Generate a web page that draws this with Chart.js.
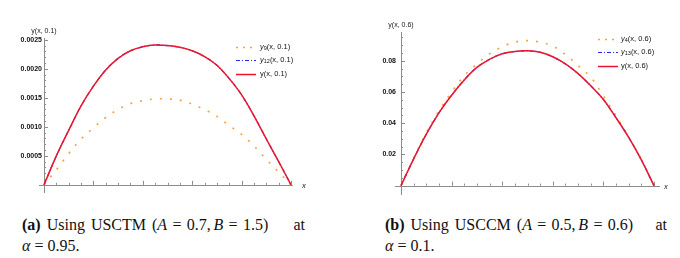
<!DOCTYPE html>
<html>
<head>
<meta charset="utf-8">
<script src="https://cdn.jsdelivr.net/npm/chart.js@4.4.0/dist/chart.umd.min.js"></script>
<style>
  html, body { margin: 0; padding: 0; background: #fff; }
  #wrap { position: relative; width: 680px; height: 258px; overflow: hidden; }
  canvas { position: absolute; top: 0; }
  #c1 { left: 0; }
  #c2 { left: 340px; }
  .legend { position: absolute; font-family: "Liberation Sans", Arial, sans-serif; font-size: 7.5px; color: #111; }
  .legend .row { position: absolute; left: 0; height: 10px; white-space: nowrap; }
  .legend svg { position: absolute; left: 0; top: 0; }
  .legend span { position: absolute; top: 0; line-height: 10px; }
  .legend sub { font-size: 5.5px; vertical-align: -1px; }
  .cap { position: absolute; font-family: "Liberation Serif", "Times New Roman", serif; font-size: 16px; color: #111; white-space: nowrap; }
  .cap .at { position: absolute; right: 0; top: 0; }
  .cap .w { word-spacing: 2px; }
</style>
</head>
<body>
<div id="wrap">
  <canvas id="c1" width="340" height="200"></canvas>
  <canvas id="c2" width="340" height="200"></canvas>
  <div class="legend" id="lg1" style="left:235px; top:42px;"></div>
  <div class="legend" id="lg2" style="left:597px; top:34px;"></div>
  <div class="cap" style="left:22px; top:216px; width:283px;"><span class="w"><b>(a)</b> Using USCTM (<i>A</i>&#x2004;=&#x2004;0.7,&#x2006;<i>B</i>&#x2004;=&#x2004;1.5)</span><span class="at">at</span></div>
  <div class="cap" style="left:22px; top:237px;"><i>α</i>&#x2005;=&#x2005;0.95.</div>
  <div class="cap" style="left:385px; top:216px; width:282px;"><span class="w"><b>(b)</b> Using USCCM (<i>A</i>&#x2004;=&#x2004;0.5,&#x2006;<i>B</i>&#x2004;=&#x2004;0.6)</span><span class="at">at</span></div>
  <div class="cap" style="left:385px; top:237px;"><i>α</i>&#x2005;=&#x2005;0.1.</div>
</div>
<script>
// ---------- data ----------
const xs = [0, 0.05, 0.1, 0.15, 0.2, 0.25, 0.3, 0.35, 0.4, 0.45, 0.5, 0.55, 0.6, 0.65, 0.7, 0.75, 0.8, 0.85, 0.9, 0.95, 1.0];

// Panel (a): USCTM, t = 0.1
const y9_a  = [0, 0.00026, 0.00054, 0.00079, 0.00098, 0.00116, 0.0013, 0.0014, 0.00145, 0.00148, 0.00148, 0.00146, 0.00139, 0.0013, 0.00118, 0.00102, 0.00087, 0.00067, 0.00044, 0.00022, 0];
const y12_a = [0, 0.0005, 0.00094, 0.00136, 0.0017, 0.00198, 0.00218, 0.00231, 0.00238, 0.00241, 0.0024, 0.00237, 0.00231, 0.00221, 0.00206, 0.00183, 0.00155, 0.00119, 0.00079, 0.0004, 0];
const yex_a = [0, 0.0005, 0.00094, 0.00136, 0.0017, 0.00198, 0.00218, 0.00231, 0.00238, 0.00241, 0.0024, 0.00237, 0.00231, 0.00221, 0.00206, 0.00183, 0.00155, 0.00119, 0.00079, 0.0004, 0];
const yTicks_a = [0.0005, 0.0010, 0.0015, 0.0020, 0.0025];

// Panel (b): USCCM, t = 0.6
const y4_b  = [0, 0.0175, 0.034, 0.048, 0.060, 0.0705, 0.078, 0.0845, 0.089, 0.092, 0.093, 0.092, 0.0895, 0.084, 0.077, 0.0695, 0.0575, 0.0447, 0.031, 0.0167, 0];
const y13_b = [0, 0.0172, 0.033, 0.0467, 0.058, 0.0678, 0.0758, 0.081, 0.0845, 0.086, 0.0864, 0.0855, 0.0826, 0.078, 0.0718, 0.064, 0.0552, 0.0435, 0.031, 0.0165, 0];
const yex_b = [0, 0.0172, 0.033, 0.0467, 0.058, 0.0678, 0.0758, 0.081, 0.0845, 0.086, 0.0864, 0.0855, 0.0826, 0.078, 0.0718, 0.064, 0.0552, 0.0435, 0.031, 0.0165, 0];
const yTicks_b = [0.02, 0.04, 0.06, 0.08];

// ---------- styles ----------
const ORANGE = 'rgb(247,163,70)';
const BLUE = 'rgb(40,40,235)';
const RED = 'rgb(236,22,42)';
const AXIS = 'rgb(140,140,140)';

function pts(arr) { return xs.map((x, i) => ({ x: x, y: arr[i] })); }

// Mathematica-style axes through the origin, drawn via the chart's scales
const mmaAxes = {
  id: 'mmaAxes',
  beforeDatasetsDraw(chart, args, opts) {
    const { ctx, chartArea: ca, scales: { x, y } } = chart;
    const x0 = x.getPixelForValue(0), y0 = y.getPixelForValue(0);
    ctx.save();
    ctx.strokeStyle = AXIS;
    ctx.lineWidth = 1;
    ctx.beginPath();
    ctx.moveTo(ca.left - opts.extLeft, Math.round(y0) + 0.5); ctx.lineTo(ca.right, Math.round(y0) + 0.5);
    ctx.moveTo(Math.round(x0) + 0.5, ca.top); ctx.lineTo(Math.round(x0) + 0.5, ca.bottom);
    for (let k = 1; k <= Math.floor(x.max / opts.xMinor + 1e-9); k++) {
      const v = k * opts.xMinor;
      const px = Math.round(x.getPixelForValue(v)) + 0.5;
      const major = Math.abs(v / opts.xMajor - Math.round(v / opts.xMajor)) < 1e-6;
      ctx.moveTo(px, y0); ctx.lineTo(px, y0 - (major ? 4 : 2));
    }
    for (let k = 1; k <= Math.floor(y.max / opts.yMinor + 1e-9); k++) {
      const v = k * opts.yMinor;
      const py = Math.round(y.getPixelForValue(v)) + 0.5;
      const major = Math.abs(v / opts.yMajor - Math.round(v / opts.yMajor)) < 1e-6;
      ctx.moveTo(x0, py); ctx.lineTo(x0 + (major ? 4 : 2), py);
    }
    ctx.stroke();
    ctx.fillStyle = '#1a1a1a';
    ctx.font = '7px "Liberation Sans", Arial, sans-serif';
    ctx.textAlign = 'center';
    ctx.textBaseline = 'bottom';
    ctx.fillText(opts.yTitle, x0, ca.top - 3);
    ctx.font = 'italic 7.5px "Liberation Sans", Arial, sans-serif';
    ctx.textAlign = 'left';
    ctx.textBaseline = 'middle';
    ctx.fillText('x', ca.right + opts.xTitleGap, y0 + 1.5);
    ctx.restore();
  }
};

function makeChart(id, d1, d2, d3, names, ylim, xlim, yTicks, decimals, yTitle, pad, yWidth, extLeft, minors, xGap) {
  return new Chart(document.getElementById(id), {
    type: 'line',
    data: {
      datasets: [
        { label: names[0], data: pts(d1), borderColor: ORANGE, borderWidth: 1.7, borderDash: [2, 8], pointRadius: 0, tension: 0.35, order: 3 },
        { label: names[1], data: pts(d2), borderColor: BLUE, borderWidth: 1.2, borderDash: [4, 2, 1, 2], pointRadius: 0, tension: 0.35, order: 2 },
        { label: names[2], data: pts(d3), borderColor: RED, borderWidth: 1.5, pointRadius: 0, tension: 0.35, order: 1 }
      ]
    },
    options: {
      responsive: false,
      animation: false,
      layout: { padding: pad },
      plugins: {
        legend: { display: false },
        tooltip: { enabled: false },
        mmaAxes: { xMinor: minors[0], xMajor: minors[1], yMinor: minors[2], yMajor: minors[3], yTitle: yTitle, xTitleGap: xGap, extLeft: extLeft }
      },
      scales: {
        x: { type: 'linear', display: false, min: xlim[0], max: xlim[1] },
        y: {
          type: 'linear', min: ylim[0], max: ylim[1],
          grid: { display: false, drawTicks: false },
          border: { display: false },
          afterFit: (s) => { s.width = yWidth; },
          afterBuildTicks: (s) => { s.ticks = yTicks.map(v => ({ value: v })); },
          ticks: {
            padding: 0,
            color: '#111',
            font: { family: '"Liberation Sans", Arial, sans-serif', size: 7, weight: 'bold' },
            callback: (v) => Number(v).toFixed(decimals)
          }
        }
      }
    },
    plugins: [mmaAxes]
  });
}

makeChart('c1', y9_a, y12_a, yex_a, ['y9(x, 0.1)', 'y12(x, 0.1)', 'y(x, 0.1)'],
  [-0.00014, 0.00253], [-0.0081, 1.008], yTicks_a, 4, 'y(x, 0.1)',
  { top: 38, right: 47, bottom: 7, left: 0 }, 42, 3, [0.05, 0.2, 0.0001, 0.0005], 9);

makeChart('c2', y4_b, y13_b, yex_b, ['y4(x, 0.6)', 'y13(x, 0.6)', 'y(x, 0.6)'],
  [-0.006, 0.0985], [-0.0198, 1.0237], yTicks_b, 2, 'y(x, 0.6)',
  { top: 32, right: 20, bottom: 5, left: 0 }, 56, 1, [0.05, 0.2, 0.005, 0.02], 4);

function buildLegend(elId, entries, rowGap) {
  const el = document.getElementById(elId);
  entries.forEach((e, i) => {
    const row = document.createElement('div');
    row.className = 'row';
    row.style.top = (i * rowGap) + 'px';
    const dash = e.dash ? e.dash.join(',') : '';
    row.innerHTML = '<svg width="22" height="10"><line x1="1" y1="5.5" x2="21" y2="5.5" stroke="' + e.color + '" stroke-width="' + e.width + '"' + (dash ? ' stroke-dasharray="' + dash + '"' : '') + '/></svg>' +
      '<span style="left:' + e.textLeft + 'px">' + e.html + '</span>';
    el.appendChild(row);
  });
}
buildLegend('lg1', [
  { color: ORANGE, width: 1.7, dash: [2, 5], html: '<i>y</i><sub>9</sub>(x, 0.1)', textLeft: 25 },
  { color: BLUE, width: 1.2, dash: [4, 2, 1, 2], html: '<i>y</i><sub>12</sub>(x, 0.1)', textLeft: 25 },
  { color: RED, width: 1.5, dash: null, html: 'y(x, 0.1)', textLeft: 25 }
], 13.3);
buildLegend('lg2', [
  { color: ORANGE, width: 1.7, dash: [2, 5], html: '<i>y</i><sub>4</sub>(x, 0.6)', textLeft: 24 },
  { color: BLUE, width: 1.2, dash: [4, 2, 1, 2], html: '<i>y</i><sub>13</sub>(x, 0.6)', textLeft: 24 },
  { color: RED, width: 1.5, dash: null, html: 'y(x, 0.6)', textLeft: 24 }
], 13.3);
</script>
</body>
</html>
